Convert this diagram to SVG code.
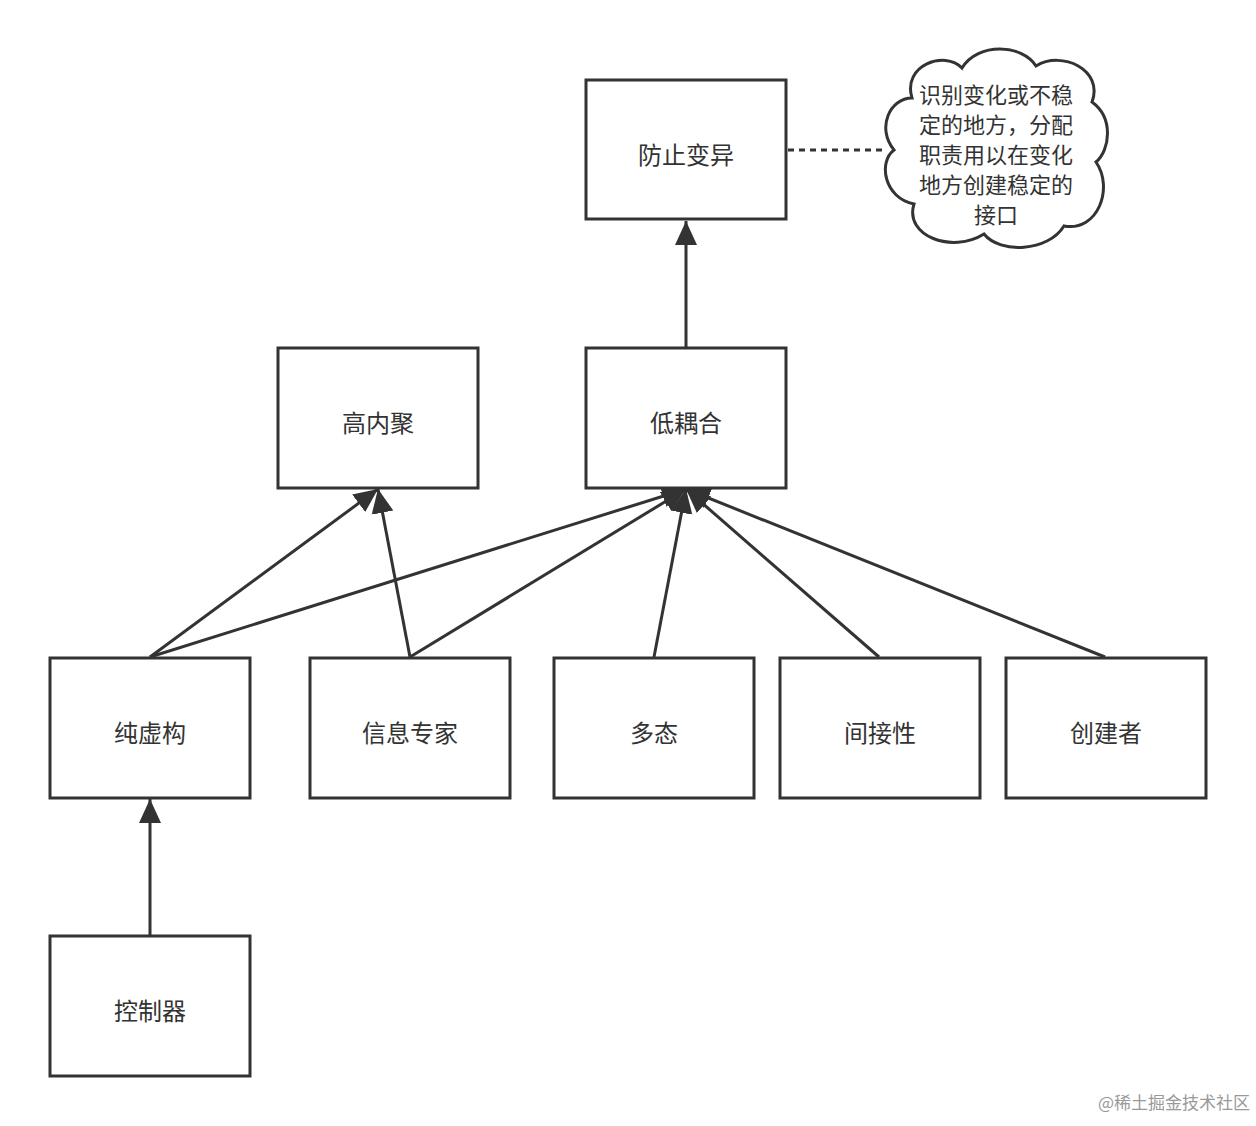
<svg xmlns="http://www.w3.org/2000/svg" width="1256" height="1126" viewBox="0 0 1256 1126">
<style>
.b{fill:#fff;stroke:#333;stroke-width:3}
.t{font-family:"Noto Sans CJK SC","Liberation Sans",sans-serif;font-size:24px;fill:#333;text-anchor:middle;dominant-baseline:central}
.c{font-size:22px}
.l{stroke:#333;stroke-width:3;fill:none}
</style>
<defs>
<marker id="a" markerUnits="userSpaceOnUse" markerWidth="26" markerHeight="24" refX="24" refY="11" orient="auto" viewBox="0 0 26 22">
<path d="M0,0 L24,11 L0,22 Z" fill="#333"/>
</marker>
</defs>
<rect width="1256" height="1126" fill="#fff"/>
<g id="connectors">
<line class="l" x1="150" y1="657" x2="378" y2="489" marker-end="url(#a)"/>
<line class="l" x1="150" y1="657" x2="686" y2="489" marker-end="url(#a)"/>
<line class="l" x1="410" y1="657" x2="378" y2="489" marker-end="url(#a)"/>
<line class="l" x1="410" y1="657" x2="686" y2="489" marker-end="url(#a)"/>
<line class="l" x1="654" y1="657" x2="686" y2="489" marker-end="url(#a)"/>
<line class="l" x1="879" y1="657" x2="686" y2="489" marker-end="url(#a)"/>
<line class="l" x1="1105" y1="657" x2="686" y2="489" marker-end="url(#a)"/>
<line class="l" x1="686" y1="347" x2="686" y2="221" marker-end="url(#a)"/>
<line class="l" x1="150" y1="935" x2="150" y2="799" marker-end="url(#a)"/>
<line class="l" x1="788" y1="150" x2="884" y2="150" stroke-dasharray="6 5"/>
</g>
<g id="n1"><rect class="b" x="586" y="80" width="200" height="139"/><text class="t" x="686" y="153">防止变异</text></g>
<g id="n2"><rect class="b" x="278" y="348" width="200" height="140"/><text class="t" x="378" y="421">高内聚</text></g>
<g id="n3"><rect class="b" x="586" y="348" width="200" height="140"/><text class="t" x="686" y="421">低耦合</text></g>
<g id="n4"><rect class="b" x="50" y="658" width="200" height="140"/><text class="t" x="150" y="731">纯虚构</text></g>
<g id="n5"><rect class="b" x="310" y="658" width="200" height="140"/><text class="t" x="410" y="731">信息专家</text></g>
<g id="n6"><rect class="b" x="554" y="658" width="200" height="140"/><text class="t" x="654" y="731">多态</text></g>
<g id="n7"><rect class="b" x="780" y="658" width="200" height="140"/><text class="t" x="880" y="731">间接性</text></g>
<g id="n8"><rect class="b" x="1006" y="658" width="200" height="140"/><text class="t" x="1106" y="731">创建者</text></g>
<g id="n9"><rect class="b" x="50" y="936" width="200" height="140"/><text class="t" x="150" y="1009">控制器</text></g>
<g id="cloud">
<path class="b" d="M912,98 C902,65 945,50 962,68 C978,42 1022,44 1036,66 C1062,50 1104,70 1092,102 C1114,118 1110,150 1096,162 C1114,188 1098,232 1064,226 C1048,252 1000,254 984,234 C952,254 904,236 914,204 C884,198 878,162 894,150 C876,128 890,98 912,98 Z"/>
<text class="t c" x="996" y="93">识别变化或不稳</text>
<text class="t c" x="996" y="123">定的地方，分配</text>
<text class="t c" x="996" y="153">职责用以在变化</text>
<text class="t c" x="996" y="183">地方创建稳定的</text>
<text class="t c" x="996" y="213">接口</text>
</g>
<text x="1250" y="1109" font-family="Noto Sans CJK SC,sans-serif" font-size="17" fill="#999" text-anchor="end">@稀土掘金技术社区</text>
</svg>
